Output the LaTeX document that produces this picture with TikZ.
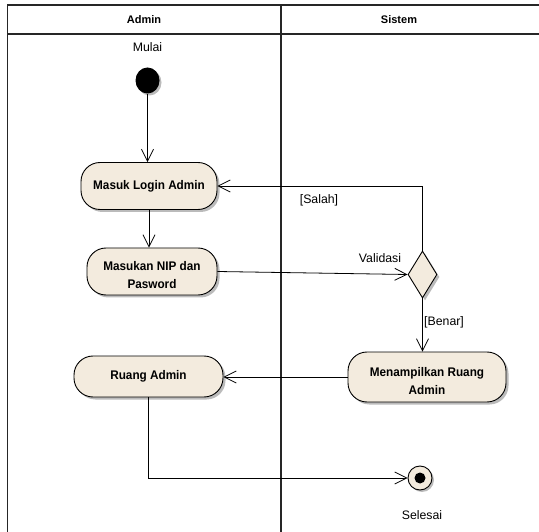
\documentclass[tikz,border=0pt]{standalone}
\usepackage{fontspec}
\setmainfont{Liberation Sans}
\newfontfamily\actfont[FakeStretch=0.94]{Liberation Sans}
\usetikzlibrary{arrows.meta,shadows,shapes.geometric}
\definecolor{actfill}{RGB}{243,235,222}
\definecolor{shade}{RGB}{170,170,170}
% extra head room so two-line captions sit a little low in their boxes
\newcommand{\toproom}{\rule{0pt}{17pt}}
\tikzset{
  x=1pt, y=1pt,
  lane/.style={line width=1.4pt, draw=black!85},
  act/.style={draw=black, line width=0.9pt, fill=actfill, rounded corners=19pt,
    align=center, font=\actfont\bfseries\fontsize{12.5}{18}\selectfont, inner sep=0pt,
    drop shadow={shadow xshift=2.5pt, shadow yshift=-2.5pt, fill=shade, opacity=0.8}},
  decision/.style={diamond, draw=black, line width=0.9pt, fill=actfill, inner sep=0pt,
    minimum width=29pt, minimum height=47pt,
    drop shadow={shadow xshift=2.5pt, shadow yshift=-2.5pt, fill=shade, opacity=0.8}},
  flow/.style={draw=black, line width=0.8pt, -{Straight Barb[length=12pt,width=12pt,line width=0.8pt]}},
  lbl/.style={font=\fontsize{12.3}{14}\selectfont, inner sep=0pt},
  hdr/.style={font=\bfseries\fontsize{11}{13}\selectfont, inner sep=0pt},
}
\begin{document}
\begin{tikzpicture}
\useasboundingbox (0,0) rectangle (539,-532);

% swimlane frame
\draw[lane] (539,-5) -- (7.5,-5) -- (7.5,-532);
\draw[lane] (7.5,-34) -- (539,-34);
\draw[lane] (281,-5) -- (281,-532);
\node[hdr] (hAdmin) at (144,-19.5) {Admin};
\node[hdr] (hSistem) at (399,-19.5) {Sistem};

% start node
\node[lbl] (mulai) at (147.5,-47) {Mulai};
\node[ellipse, fill=black, minimum width=24pt, minimum height=26pt, inner sep=0pt,
  drop shadow={shadow xshift=2pt, shadow yshift=-2pt, fill=shade, opacity=0.8}] (start) at (147.5,-80.5) {};

% activities
\node[act, minimum width=136pt, minimum height=47pt] (login) at (149,-186) {Masuk Login Admin};
\node[act, minimum width=130pt, minimum height=47pt] (nip) at (152,-271.5) {\toproom Masukan NIP dan\\Pasword};
\node[decision] (valid) at (422.5,-274.5) {};
\node[act, minimum width=158pt, minimum height=50pt] (tampil) at (427,-377) {\toproom Menampilkan Ruang\\Admin};
\node[act, minimum width=149pt, minimum height=41pt] (ruang) at (148.5,-376.5) {Ruang Admin};

% final node
\node[circle, draw=black, line width=0.9pt, fill=actfill, minimum size=24pt, inner sep=0pt,
  drop shadow={shadow xshift=2pt, shadow yshift=-2pt, fill=shade, opacity=0.8}] (final) at (420,-478) {};
\fill[black] (final.center) circle (5.5pt);
\node[lbl] (selesai) at (422,-515) {Selesai};

% labels
\node[lbl] (validasi) at (380,-258) {Validasi};
\node[lbl] (salah) at (319,-200) {[Salah]};
\node[lbl, anchor=west] (benar) at (424,-322) {[Benar]};

% flows
\draw[flow] (start.south) -- (start.south |- login.north);
\draw[flow] (login.south) -- (login.south |- nip.north);
\draw[flow] (nip.east) -- (valid.west);
\draw[flow] (valid.north) |- (login.east);
\draw[flow] (valid.south) -- (valid.south |- tampil.north);
\draw[flow] (tampil.west) -- (tampil.west -| ruang.east);
\draw[flow] (ruang.south) |- (final.west);
\end{tikzpicture}
\end{document}
